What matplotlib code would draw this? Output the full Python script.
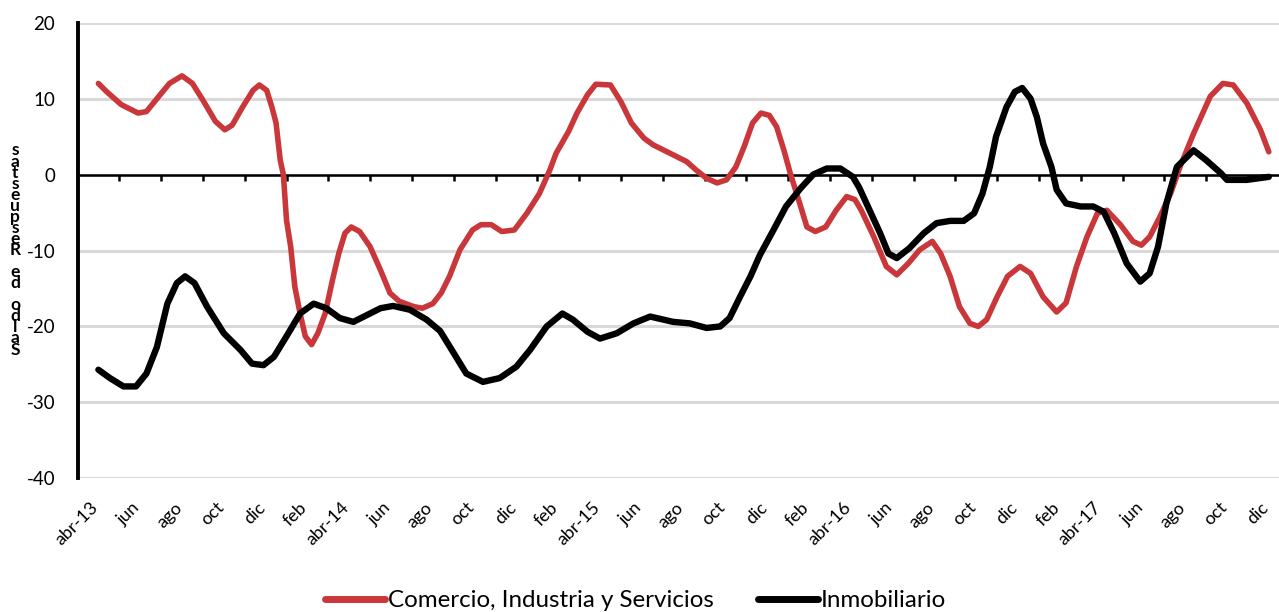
import numpy as np
import matplotlib
matplotlib.use("Agg")
import matplotlib.pyplot as plt
import matplotlib.transforms as mtransforms

plt.rcParams['font.family'] = ['Lato', 'DejaVu Sans']
plt.rcParams['axes.unicode_minus'] = False

# Months counted from abr-13 (0) to dic-17 (56)
tick_labels = ["abr-13", "jun", "ago", "oct", "dic", "feb",
               "abr-14", "jun", "ago", "oct", "dic", "feb",
               "abr-15", "jun", "ago", "oct", "dic", "feb",
               "abr-16", "jun", "ago", "oct", "dic", "feb",
               "abr-17", "jun", "ago", "oct", "dic"]

ci_month = [0, 0.4, 1.1, 1.9, 2.3, 2.95, 3.4, 4.0, 4.5, 5.0, 5.6, 6.05, 6.4, 6.9,
            7.4, 7.7, 8.05, 8.3, 8.5, 8.7, 8.85, 9.0, 9.2, 9.4, 9.65, 9.9, 10.2,
            10.5, 10.85, 11.2, 11.5, 11.8, 12.1, 12.5, 13.0, 13.5, 13.95, 14.4,
            15.1, 15.5, 16.0, 16.4, 16.8, 17.3, 17.9, 18.3, 18.8, 19.3, 19.9,
            20.5, 21.1, 21.6, 21.9, 22.5, 22.9, 23.4, 23.8, 24.5, 25.0, 25.5,
            26.1, 26.55, 27.5, 28.15, 28.6, 29.1, 29.6, 30.05, 30.5, 30.9, 31.3,
            31.7, 32.1, 32.45, 32.8, 33.1, 33.5, 33.9, 34.3, 34.8, 35.3, 35.8,
            36.2, 36.5, 37.1, 37.7, 38.2, 38.75, 39.3, 39.9, 40.3, 40.75, 41.2,
            41.7, 42.1, 42.5, 43.0, 43.5, 44.1, 44.6, 45.2, 45.85, 46.3, 46.8,
            47.3, 47.8, 48.25, 48.9, 49.5, 49.9, 50.3, 50.8, 51.3, 51.75, 52.4,
            53.2, 53.8, 54.3, 54.95, 55.6, 56.0]
ci_value = [12.0, 10.9, 9.2, 8.1, 8.3, 10.5, 12.0, 13.0, 12.0, 9.8, 7.0, 5.9, 6.5,
            8.9, 11.1, 11.8, 11.1, 8.9, 6.8, 1.9, 0.0, -6.0, -9.5, -14.8, -18.3,
            -21.3, -22.4, -20.9, -18.3, -13.9, -10.4, -7.7, -6.9, -7.5, -9.5,
            -12.6, -15.6, -16.7, -17.4, -17.6, -17.0, -15.6, -13.4, -9.9, -7.3,
            -6.6, -6.6, -7.5, -7.3, -5.1, -2.5, 0.6, 2.8, 5.7, 8.1, 10.5, 11.9,
            11.8, 9.6, 6.8, 4.8, 3.9, 2.6, 1.7, 0.6, -0.5, -1.1, -0.7, 1.0, 3.7,
            6.8, 8.1, 7.8, 6.3, 3.2, 0.2, -3.3, -6.9, -7.5, -6.9, -4.7, -2.9,
            -3.3, -4.7, -8.2, -12.1, -13.2, -11.7, -9.9, -8.8, -10.4, -13.4,
            -17.4, -19.6, -20.0, -19.1, -16.1, -13.4, -12.1, -13.0, -16.1,
            -18.1, -16.9, -12.1, -8.2, -5.1, -4.7, -6.6, -8.8, -9.3, -8.2, -5.5,
            -2.5, 1.0, 5.4, 10.3, 12.0, 11.8, 9.4, 5.9, 3.0]

inm_month = [0, 0.55, 1.2, 1.8, 2.3, 2.8, 3.3, 3.75, 4.15, 4.6, 5.2, 6.0, 6.8, 7.35,
             7.9, 8.4, 9.0, 9.65, 10.3, 10.9, 11.55, 12.2, 12.85, 13.5, 14.1,
             14.9, 15.7, 16.35, 17.0, 17.6, 18.4, 19.2, 20.0, 20.65, 21.45, 22.2,
             22.7, 23.4, 24.0, 24.8, 25.6, 26.4, 27.5, 28.3, 29.1, 29.75, 30.2,
             30.7, 31.2, 31.65, 32.3, 32.9, 33.6, 34.2, 34.85, 35.5, 36.1, 36.4,
             36.9, 37.4, 37.8, 38.2, 38.8, 39.5, 40.1, 40.75, 41.4, 41.9, 42.3,
             42.65, 42.95, 43.45, 43.85, 44.2, 44.6, 44.9, 45.2, 45.6, 45.85,
             46.3, 47.0, 47.6, 48.1, 48.6, 49.2, 49.85, 50.3, 50.7, 51.1, 51.6,
             52.4, 53.0, 53.7, 54.0, 54.95, 56.0]
inm_value = [-25.7, -26.8, -27.9, -27.9, -26.2, -22.7, -17.0, -14.3, -13.4, -14.3,
             -17.4, -20.9, -23.1, -24.9, -25.1, -24.0, -21.3, -18.3, -17.0, -17.6,
             -18.9, -19.4, -18.5, -17.6, -17.3, -17.8, -19.1, -20.6, -23.5, -26.2,
             -27.3, -26.8, -25.3, -23.1, -20.0, -18.3, -19.1, -20.7, -21.6, -20.9,
             -19.6, -18.7, -19.4, -19.6, -20.2, -20.0, -18.9, -16.1, -13.4, -10.6,
             -7.3, -4.2, -1.8, 0.0, 0.8, 0.8, -0.3, -1.7, -4.7, -7.7, -10.4, -11.0,
             -9.7, -7.7, -6.4, -6.1, -6.1, -5.1, -2.5, 1.0, 5.0, 8.9, 10.9, 11.4,
             10.0, 7.6, 4.1, 1.0, -2.0, -3.8, -4.2, -4.2, -4.9, -7.7, -11.7, -14.1,
             -13.0, -9.5, -3.8, 1.0, 3.2, 1.9, 0.2, -0.7, -0.7, -0.3]

series_names = ["Comercio, Industria y Servicios", "Inmobiliario"]
ylabel = "Saldo de Respuestas"

RED = "#c9373a"
GRID = "#d9d9d9"

fig = plt.figure(figsize=(12.79, 6.12), dpi=100)
ax = fig.add_axes([77.5 / 1279, 1 - 478.3 / 612, (1289.7 - 77.5) / 1279, (478.3 - 22.7) / 612])

ax.plot(ci_month, ci_value, color=RED, lw=4.0, solid_capstyle='round',
        solid_joinstyle='round', label=series_names[0], zorder=3)
ax.plot(inm_month, inm_value, color="black", lw=4.6, solid_capstyle='round',
        solid_joinstyle='round', label=series_names[1], zorder=4)

ax.set_xlim(-1, 57)
ax.set_ylim(-40, 20)
ax.set_yticks(np.arange(-40, 21, 10))
ax.yaxis.grid(True, color=GRID, lw=2.2)
ax.set_axisbelow(True)
for side in ("top", "right", "bottom"):
    ax.spines[side].set_visible(False)
ax.spines["left"].set_color("black")
ax.spines["left"].set_linewidth(2.8)
ax.tick_params(axis="y", length=0, pad=16, labelsize=13.5)

# Category labels along the bottom of the plot
ax.set_xticks(np.arange(0, 57, 2))
ax.set_xticklabels(tick_labels, rotation=45, ha="right", va="top", fontsize=13)
ax.tick_params(axis="x", length=0, pad=15)
offset = mtransforms.ScaledTranslation(3 / 100, 0, fig.dpi_scale_trans)
for lbl in ax.get_xticklabels():
    lbl.set_transform(lbl.get_transform() + offset)

# Horizontal axis crossing at zero, with tick marks between categories
ax.axhline(0, color="black", lw=1.8, zorder=2)
between = np.arange(1, 57, 2)
ax.plot(between, np.zeros_like(between), ls="none", marker=3, ms=4.5, mew=1.8,
        color="black", zorder=2, clip_on=False)

# Stacked axis title
fig.text(15 / 1279, 1 - 250 / 612, "\n".join(reversed(ylabel)), ha="center",
         va="center", fontsize=12.5, fontweight="bold", linespacing=0.62)

fig.legend(loc="center", bbox_to_anchor=(0.497, 0.018), ncol=2, frameon=False,
           fontsize=17.4, handlelength=2.5, handletextpad=0.12, columnspacing=1.8,
           borderaxespad=0, borderpad=0)
for line in fig.legends[0].get_lines():
    line.set_linewidth(5)

fig.savefig("out.png", dpi=100)
